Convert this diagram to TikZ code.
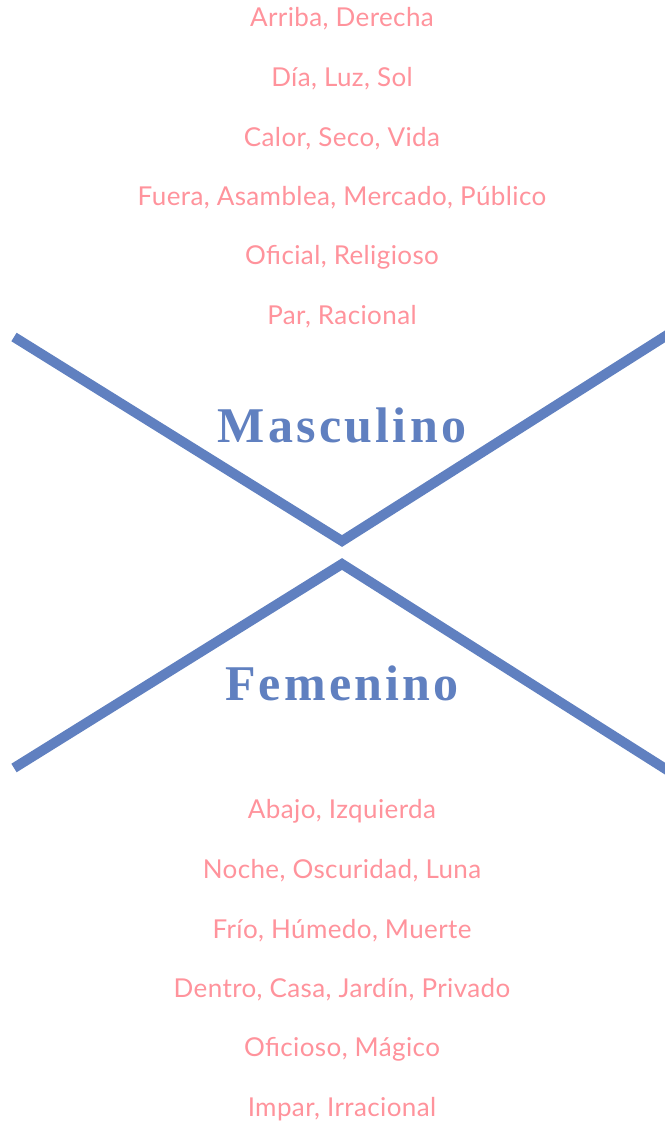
\documentclass[tikz,border=0pt]{standalone}
\usepackage{fontspec}
\setmainfont{Lato}[LetterSpace=1.5]
\newfontfamily\titlefont{Liberation Serif Bold}[LetterSpace=6.5]
\definecolor{pinktext}{HTML}{FF939C}
\definecolor{lineblue}{HTML}{6080C0}
\begin{document}
\begin{tikzpicture}[x=1pt,y=-1pt,
  item/.style={text=pinktext,font=\fontsize{26}{30}\selectfont,anchor=center,inner sep=0pt},
  title/.style={text=lineblue,font=\titlefont\fontsize{50}{56}\selectfont,anchor=base,inner sep=0pt},
  bar/.style={draw=lineblue,line width=10pt,line cap=butt,line join=miter}]
\useasboundingbox[fill=white] (0,0) rectangle (664,1123);
\foreach \t [count=\i] in {{Arriba, Derecha},{Día, Luz, Sol},{Calor, Seco, Vida},{Fuera, Asamblea, Mercado, Público},{Oficial, Religioso},{Par, Racional}}
  \node[item] (top\i) at (342,{19+59.6*(\i-1)}) {\t};
\foreach \t [count=\i] in {{Abajo, Izquierda},{Noche, Oscuridad, Luna},{Frío, Húmedo, Muerte},{Dentro, Casa, Jardín, Privado},{Oficioso, Mágico},{Impar, Irracional}}
  \node[item] (bot\i) at (342,{811+59.6*(\i-1)}) {\t};
\node[title] (masc) at (342,442) {Masculino};
\node[title] (fem) at (342,700) {Femenino};
\coordinate (a1) at (14,337);
\coordinate (a2) at (342,541);
\coordinate (a3) at (668,334.5);
\coordinate (b1) at (14,768);
\coordinate (b2) at (342,564);
\coordinate (b3) at (668,770.5);
\draw[bar] (a1) -- (a2) -- (a3);
\draw[bar] (b1) -- (b2) -- (b3);
\end{tikzpicture}
\end{document}
